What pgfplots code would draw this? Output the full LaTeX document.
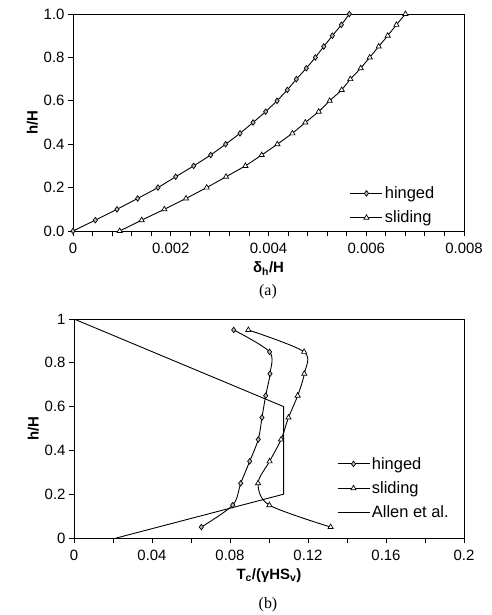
\documentclass[border=0pt]{standalone}
\usepackage{pgfplots}
\pgfplotsset{compat=1.18}
\usepackage{fontspec}
\setmainfont{Liberation Sans}
\newfontfamily\seriffont{Liberation Serif}
\begin{document}
\begin{tikzpicture}
\path[use as bounding box] (0bp,0bp) rectangle (492bp,-615bp);
\pgfplotsset{
  every axis/.style={
    scale only axis,
    axis line style={line width=0.9bp},
    every tick/.style={black, line width=0.8bp},
    tick align=outside,
    major tick length=5bp,
    minor tick length=5bp,
    xtick pos=lower, ytick pos=left,
    tick label style={font=\fontsize{15}{18}\selectfont},
    xticklabel style={yshift=-4bp},
    label style={font=\fontsize{15}{18}\selectfont\bfseries},
    /pgf/number format/assume math mode=true,
    legend style={draw=none, fill=none, font=\fontsize{16.5}{19}\selectfont, row sep=7bp, inner sep=0pt},
    legend cell align=left,
    legend image code/.code={\draw[mark repeat=2,mark phase=2] plot coordinates {(0bp,0bp) (16bp,0bp) (32bp,0bp)};},
    ylabel style={yshift=-1bp},
    xlabel style={yshift=-1bp},
  },
  hing/.style={black, line width=0.9bp, mark=diamond*, mark size=2.8bp, mark options={fill=gray!55, line width=0.7bp}},
  slid/.style={black, line width=0.9bp, mark=triangle*, mark size=3bp, mark options={fill=white, line width=0.7bp}},
}
\begin{axis}[
  at={(73bp,-231bp)}, anchor=south west,
  width=391bp, height=217bp,
  xmin=0, xmax=0.008, ymin=0, ymax=1,
  xtick={0,0.002,0.004,0.006,0.008},
  minor x tick num=4,
  ytick={0,0.2,0.4,0.6,0.8,1.0},
  scaled x ticks=false,
  xticklabel style={/pgf/number format/fixed, /pgf/number format/precision=3},
  yticklabel style={/pgf/number format/fixed, /pgf/number format/fixed zerofill, /pgf/number format/precision=1},
  xlabel={δ\textsubscript{h}/H},
  ylabel={h/H},
  legend style={at={(0.708,0.02)}, anchor=south west},
]
\addplot[hing] coordinates {
(0,0) (0.000457,0.05) (0.000900,0.10) (0.001323,0.15) (0.001739,0.20) (0.002101,0.25)
(0.002469,0.30) (0.002817,0.35) (0.003124,0.40) (0.003417,0.45) (0.003684,0.50)
(0.003943,0.55) (0.004175,0.60) (0.004386,0.65) (0.004570,0.70) (0.004775,0.75)
(0.004959,0.80) (0.005130,0.85) (0.005307,0.90) (0.005491,0.95) (0.005655,1.00)};
\addlegendentry{hinged}
\addplot[slid] coordinates {
(0.000955,0) (0.001405,0.05) (0.001869,0.10) (0.002312,0.15) (0.002736,0.20) (0.003131,0.25)
(0.003527,0.30) (0.003861,0.35) (0.004182,0.40) (0.004488,0.45) (0.004754,0.50)
(0.005027,0.55) (0.005252,0.60) (0.005498,0.65) (0.005675,0.70) (0.005887,0.75)
(0.006071,0.80) (0.006255,0.85) (0.006439,0.90) (0.006617,0.95) (0.006801,1.00)};
\addlegendentry{sliding}
\end{axis}
\node[font=\seriffont\fontsize{16}{18}\selectfont] at (268bp,-292bp) {(a)};

\begin{axis}[
  at={(74bp,-538bp)}, anchor=south west,
  width=390bp, height=219bp,
  xmin=0, xmax=0.2, ymin=0, ymax=1,
  xtick={0,0.04,0.08,0.12,0.16,0.2},
  minor x tick num=1,
  ytick={0,0.2,0.4,0.6,0.8,1},
  scaled x ticks=false,
  xticklabel style={/pgf/number format/fixed, /pgf/number format/precision=2},
  xlabel={T\textsubscript{c}/(γHS\textsubscript{v})},
  ylabel={h/H},
  legend style={at={(0.674,0.075)}, anchor=south west},
]
\addplot[hing, smooth] coordinates {
(0.0819,0.95) (0.1003,0.85) (0.1005,0.75) (0.0983,0.65) (0.0964,0.55)
(0.0945,0.45) (0.0901,0.35) (0.0855,0.25) (0.0814,0.15) (0.0653,0.05)};
\addlegendentry{hinged}
\addplot[slid, smooth] coordinates {
(0.0894,0.95) (0.1180,0.85) (0.1181,0.75) (0.1147,0.65) (0.1100,0.55)
(0.1062,0.45) (0.1003,0.35) (0.0944,0.25) (0.1002,0.15) (0.1316,0.05)};
\addlegendentry{sliding}
\addplot[black, line width=0.9bp, mark=none] coordinates {
(0,1) (0.1075,0.6) (0.1075,0.2) (0.0217,0)};
\addlegendentry{Allen et al.}
\end{axis}
\node[font=\seriffont\fontsize{16}{18}\selectfont] at (268bp,-605bp) {(b)};
\end{tikzpicture}
\end{document}
